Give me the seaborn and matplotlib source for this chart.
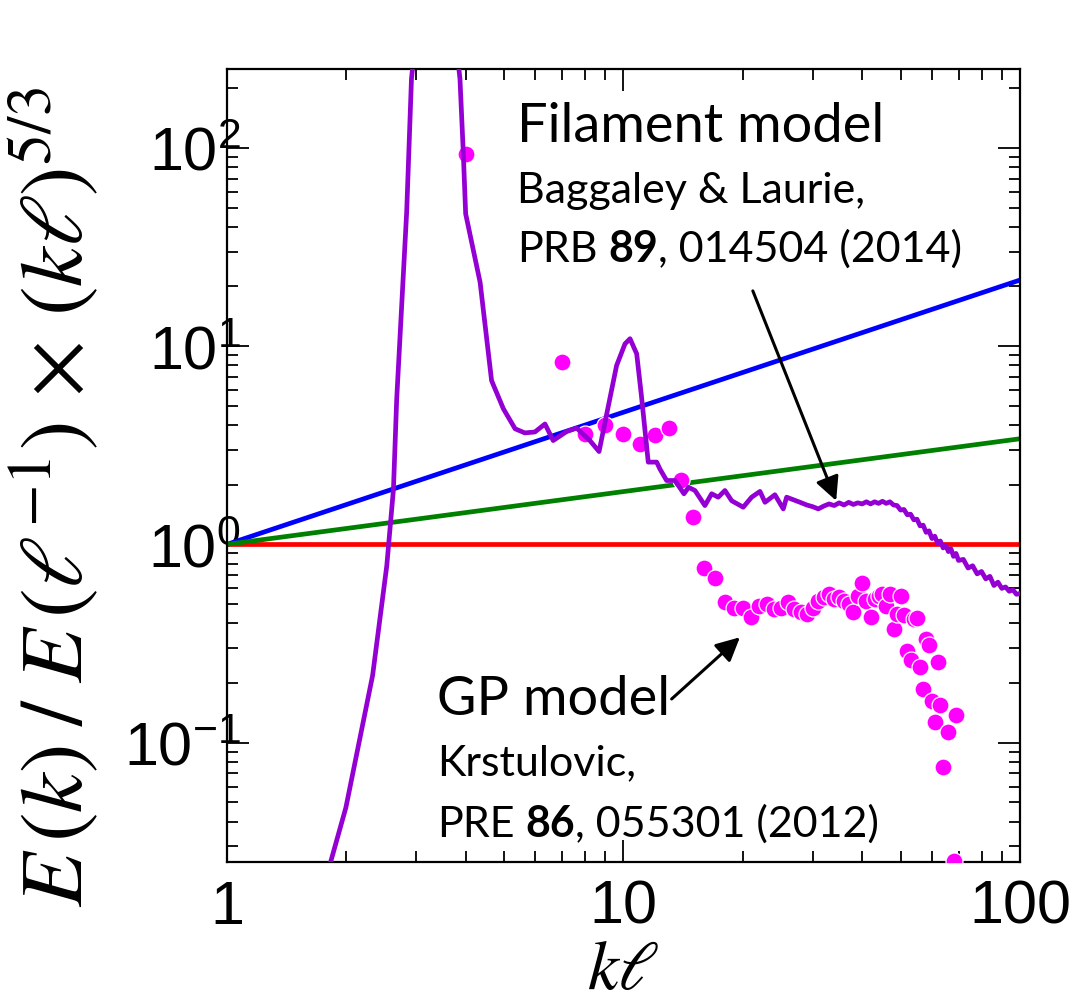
import numpy as np
import pandas as pd
import matplotlib
matplotlib.use("Agg")
import matplotlib.pyplot as plt
from matplotlib import font_manager
from matplotlib.ticker import LogLocator, NullFormatter
import seaborn as sns

# ---- data -------------------------------------------------------------
# reference power laws, given by their end values at kl = 1 and kl = 100
ref_kl = [1.0, 100.0]
kolmogorov_E = [1.0, 1.0]          # k^{-5/3}  (red)
vortex_line_E = [1.0, 21.54]       # k^{-1}    (blue)
kelvin_wave_E = [1.0, 3.41]        # k^{-7/5}  (green)

# filament model spectrum (Baggaley & Laurie)
fil_kl = [1.70, 1.995, 2.33, 2.53, 2.63, 2.68, 2.84, 2.92, 3.35,
          3.87, 3.945, 4.00, 4.35, 4.65, 4.98, 5.33, 5.64, 5.98, 6.34,
          6.65, 7.19, 7.62, 8.23, 8.68, 9.61, 10.09, 10.39, 10.8, 11.1,
          11.55, 12.13, 12.36, 12.85, 13.49, 14.21, 14.6, 15.15, 16.05,
          16.69, 17.34, 18.03, 18.75, 20.05, 21.05, 22.1, 22.75, 24.1,
          25.3, 25.8, 27.9, 29.0, 30.0, 31.0, 32.0, 33.0, 34.0, 35.0,
          36.0, 37.0, 38.0, 39.0, 40.0, 41.0, 42.0, 43.0, 44.0, 45.0,
          46.0, 47.0, 48.0, 49.0, 50.0, 51.0, 52.0, 53.0, 54.0, 55.0,
          56.0, 57.0, 58.0, 59.0, 60.0, 61.0, 62.0, 63.0, 64.0, 65.0,
          66.0, 67.0, 68.0, 69.0, 70.0, 72.0, 74.0, 76.0, 78.0, 80.0,
          82.0, 84.0, 86.0, 88.0, 90.0, 92.0, 94.0, 96.0, 98.0, 100.0]
fil_E = [0.015, 0.047, 0.218, 0.78, 1.90, 5.4, 47.6, 223.0, 3000.0,
         223.0, 95.0, 46.5, 21.0, 6.7, 4.83, 3.83, 3.65, 3.69, 4.05,
         3.34, 3.71, 3.86, 3.34, 2.94, 7.98, 10.27, 10.9, 9.15, 5.63,
         2.60, 2.60, 2.40, 2.10, 2.10, 1.80, 1.94, 1.87, 1.57,
         1.80, 1.73, 1.87, 1.66, 1.54, 1.73, 1.85, 1.63, 1.78,
         1.51, 1.73, 1.63, 1.58, 1.55, 1.51, 1.56, 1.60, 1.57, 1.62,
         1.58, 1.63, 1.59, 1.62, 1.60, 1.64, 1.60, 1.64, 1.61, 1.65,
         1.61, 1.64, 1.58, 1.57, 1.49, 1.50, 1.41, 1.42, 1.33, 1.34,
         1.24, 1.25, 1.15, 1.17, 1.07, 1.10, 1.01, 1.04, 0.96, 0.99,
         0.92, 0.95, 0.87, 0.90, 0.83, 0.84, 0.76, 0.78, 0.71, 0.73,
         0.67, 0.69, 0.62, 0.645, 0.60, 0.61, 0.58, 0.59, 0.56, 0.565]

# Gross-Pitaevskii spectrum (Krstulovic)
gp_kl = [4, 7, 8, 9, 10, 11, 12, 13, 14, 15, 16, 17, 18, 19, 20, 21, 22,
         23, 24, 25, 26, 27, 28, 29, 30, 31, 32, 33, 34, 35, 36, 37, 38,
         39, 40, 41, 42, 43, 44, 45, 46, 47, 48, 49, 50, 51, 52, 53, 54,
         55, 56, 57, 58, 59, 60, 61, 62, 63, 64, 66, 68, 69]
gp_E = [93.0, 8.3, 3.6, 4.0, 3.6, 3.2, 3.55, 3.85, 2.12, 1.38, 0.76,
        0.68, 0.51, 0.475, 0.475, 0.43, 0.49, 0.50, 0.47, 0.48, 0.51,
        0.47, 0.455, 0.445, 0.48, 0.52, 0.54, 0.56, 0.53, 0.54, 0.52,
        0.50, 0.455, 0.55, 0.64, 0.52, 0.43, 0.53, 0.55, 0.56, 0.49,
        0.56, 0.375, 0.445, 0.55, 0.44, 0.29, 0.26, 0.42, 0.425, 0.24,
        0.187, 0.334, 0.309, 0.163, 0.127, 0.255, 0.154, 0.075, 0.113,
        0.0254, 0.138]

x_tick_vals = [1, 10, 100]
x_tick_text = ["1", "10", "100"]
y_tick_vals = [0.1, 1, 10, 100]
y_tick_text = [r"$\mathdefault{10^{-1}}$", r"$\mathdefault{10^{0}}$",
               r"$\mathdefault{10^{1}}$", r"$\mathdefault{10^{2}}$"]

# ---- styling ------------------------------------------------------------
sns.set_style("ticks")
available = {f.name for f in font_manager.fontManager.ttflist}


def pick(*names):
    for n in names:
        if n in available:
            return n
    return "DejaVu Sans"


tick_font = pick("Liberation Sans Narrow", "DejaVu Sans Condensed",
                 "Liberation Sans")
note_font = pick("Lato", "Open Sans", "DejaVu Sans")
plt.rcParams["font.family"] = [tick_font, "DejaVu Sans"]
plt.rcParams["mathtext.fontset"] = "stix"
plt.rcParams["text.color"] = "black"
plt.rcParams["axes.labelcolor"] = "black"

W, H = 1070, 1003
fig = plt.figure(figsize=(W / 100, H / 100), dpi=100)
ax = fig.add_axes([0.2121, 0.1396, 0.7411, 0.7906])
ax.set_xscale("log")
ax.set_yscale("log")

lw = 3.4
sns.lineplot(x=ref_kl, y=kolmogorov_E, ax=ax, color="#ff0000",
             linewidth=lw, zorder=2)
sns.lineplot(x=ref_kl, y=vortex_line_E, ax=ax, color="#0000ff",
             linewidth=lw, zorder=2)
sns.lineplot(x=ref_kl, y=kelvin_wave_E, ax=ax, color="#008000",
             linewidth=lw, zorder=2)

sns.scatterplot(x=gp_kl, y=gp_E, ax=ax, color="#ff00ff", s=150,
                edgecolor="white", linewidth=0.9, zorder=3)

fil = pd.DataFrame({"kl": fil_kl, "E": fil_E})
sns.lineplot(data=fil, x="kl", y="E", ax=ax, color="#9400d3",
             linewidth=lw, sort=False, estimator=None, zorder=4)

ax.set_xlim(1, 100)
ax.set_ylim(0.025, 250)

ax.set_xticks(x_tick_vals, labels=x_tick_text)
ax.set_yticks(y_tick_vals, labels=y_tick_text)
ax.xaxis.set_minor_locator(LogLocator(base=10, subs=np.arange(2, 10)))
ax.yaxis.set_minor_locator(LogLocator(base=10, subs=np.arange(2, 10)))
ax.xaxis.set_minor_formatter(NullFormatter())
ax.yaxis.set_minor_formatter(NullFormatter())
ax.tick_params(which="both", direction="in", top=True, right=True,
               labelsize=44, color="black", labelcolor="black")
ax.tick_params(axis="x", which="both", pad=12)
ax.tick_params(axis="y", which="both", pad=-10)
ax.tick_params(which="major", length=16, width=1.3)
ax.tick_params(which="minor", length=8, width=1.3)
for sp in ax.spines.values():
    sp.set_linewidth(1.6)
    sp.set_color("black")
    sp.set_visible(True)

ax.set_xlabel(r"$k\ell$", fontsize=50)
ax.set_ylabel(r"$E\,(k)\;/\;E\,(\ell^{-1})\,\times\,(k\ell)^{5/3}$",
              fontsize=64)
ax.xaxis.label.set_va("baseline")
ax.xaxis.set_label_coords(0.5, -0.159)
ax.yaxis.set_label_coords(-0.158, 0.4615)

# annotations (mixed weights laid out piece by piece)
renderer = fig.canvas.get_renderer()


def text_width(s, size, weight="normal"):
    t = fig.text(0, 0, s, fontsize=size, family=note_font, fontweight=weight)
    w = t.get_window_extent(renderer).width
    t.remove()
    return w


def rich_text(x_px, y_px, parts, size):
    space = text_width("a a", size) - text_width("aa", size)
    x = x_px
    for i, (s, weight) in enumerate(parts):
        t = fig.text(x / W, 1 - y_px / H, s, fontsize=size, family=note_font,
                     fontweight=weight, va="baseline", ha="left",
                     color="black")
        x += t.get_window_extent(renderer).width
        if i == 0:
            x += space


big, small = 39, 31
rich_text(517, 141.7, [("Filament model", "normal")], big)
rich_text(517, 203, [("Baggaley & Laurie,", "normal")], small)
rich_text(517, 262, [("PRB", "normal"), ("89", "bold"),
                     (", 014504 (2014)", "normal")], small)
rich_text(437, 715, [("GP model", "normal")], big)
rich_text(437, 775, [("Krstulovic,", "normal")], small)
rich_text(437, 836.7, [("PRE", "normal"), ("86", "bold"),
                       (", 055301 (2012)", "normal")], small)

arrow = dict(arrowstyle="-|>", color="black", lw=2.2, mutation_scale=36,
             shrinkA=0, shrinkB=0)
ax.annotate("", xy=(34.4, 1.66), xytext=(21.2, 19.0), arrowprops=arrow,
            zorder=5)
ax.annotate("", xy=(19.67, 0.340), xytext=(13.23, 0.166), arrowprops=arrow,
            zorder=5)

fig.savefig("out.png", dpi=100)
